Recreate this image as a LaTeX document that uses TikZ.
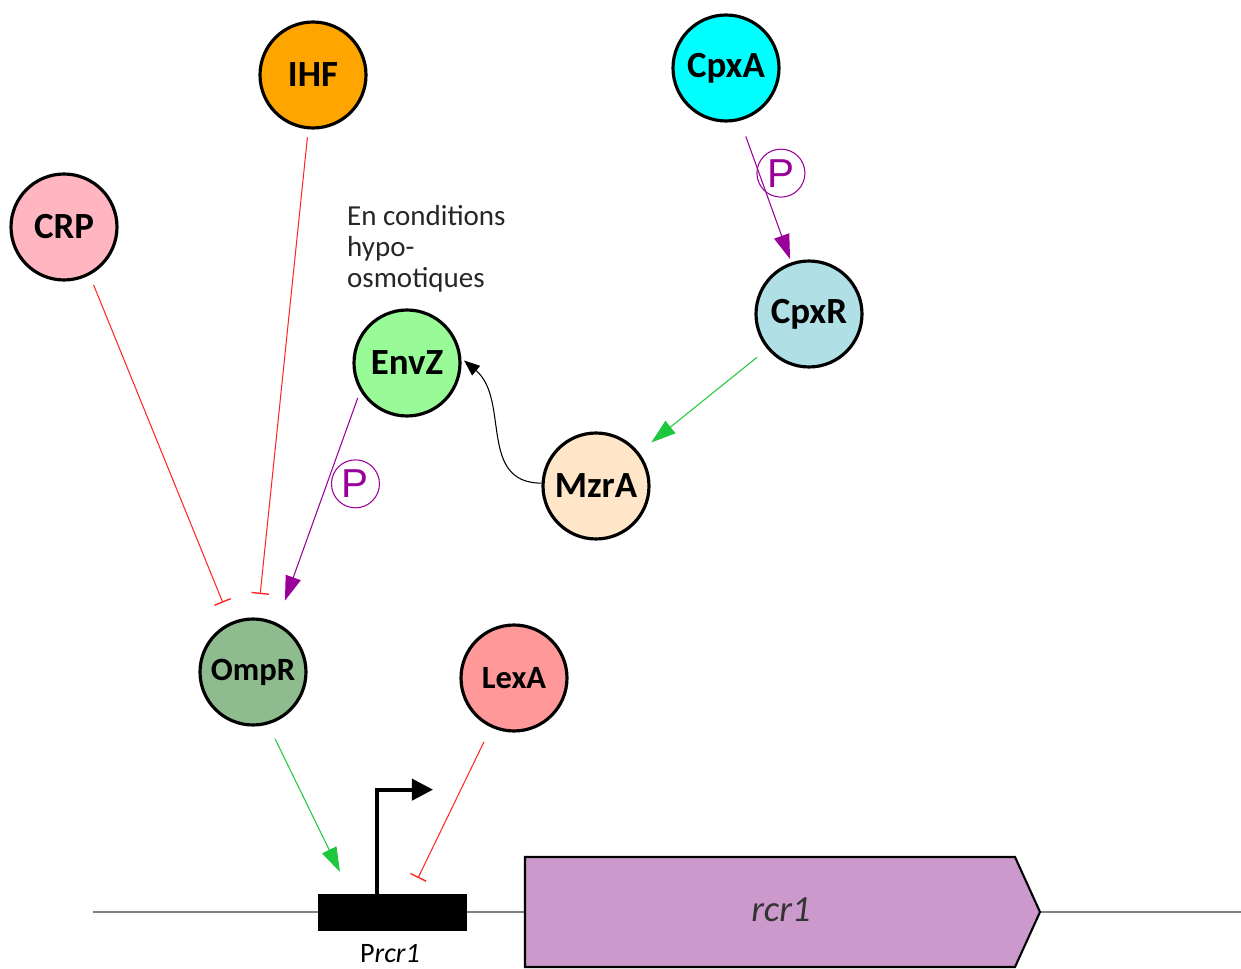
\documentclass[tikz,border=0pt]{standalone}
\usepackage{fontspec}
\setmainfont{Carlito}
\newfontfamily\pfont{Liberation Sans}
\usetikzlibrary{arrows.meta,positioning}
\definecolor{ihfc}{RGB}{255,165,0}
\definecolor{crpc}{RGB}{255,182,193}
\definecolor{cpxac}{RGB}{0,255,255}
\definecolor{cpxrc}{RGB}{176,224,230}
\definecolor{envzc}{RGB}{152,251,152}
\definecolor{mzrac}{RGB}{255,230,200}
\definecolor{omprc}{RGB}{143,188,143}
\definecolor{lexac}{RGB}{255,153,153}
\definecolor{genec}{RGB}{204,153,204}
\definecolor{inhred}{RGB}{255,40,40}
\definecolor{actgreen}{RGB}{30,200,60}
\definecolor{phospurple}{RGB}{153,0,153}

\begin{document}
\begin{tikzpicture}[x=0.02cm,y=-0.02cm,
  prot/.style={circle,draw,line width=1.8pt,minimum size=2.12cm,inner sep=0pt,font=\bfseries\fontsize{21}{25}\selectfont},
  smallprot/.style={prot,font=\bfseries\fontsize{18.5}{22}\selectfont},
  act/.style={-{Triangle[length=14pt,width=9pt]},line width=0.6pt},
  inh/.style={-{Bar[width=10pt,line width=0.8pt]},line width=0.6pt,draw=inhred},
  phos/.style={circle,draw=phospurple,text=phospurple,line width=0.6pt,minimum size=0.96cm,inner sep=0pt,font=\pfont\fontsize{23}{23}\selectfont}]
\useasboundingbox (0,0) rectangle (1241,969);

% DNA, gene and promoter
\draw[gray,line width=1.1pt] (93,912) -- (1241,912);
\draw[fill=genec,line width=1.2pt] (525,857) -- (1015,857) -- (1040,912) -- (1015,967) -- (525,967) -- cycle;
\node[font=\itshape\fontsize{21}{25}\selectfont,text=black!80] (genelabel) at (781,910) {rcr1};
\node[fill=black,draw,minimum width=2.96cm,minimum height=0.72cm,inner sep=0pt] (prom) at (392,912) {};
\node[font=\fontsize{16}{19}\selectfont] (promlabel) at (390,954) {P\textit{rcr1}};
\draw[line width=2.3pt,-{Triangle[length=12pt,width=12pt]}] ([xshift=-0.3cm]prom.north) |- ++(56,-104);

% proteins
\node[prot,fill=ihfc] (ihf) at (313,75) {IHF};
\node[prot,fill=crpc] (crp) at (64,227) {CRP};
\node[prot,fill=cpxac] (cpxa) at (726,68) {CpxA};
\node[prot,fill=cpxrc] (cpxr) at (809,314) {CpxR};
\node[prot,fill=envzc] (envz) at (407,363) {EnvZ};
\node[prot,fill=mzrac] (mzra) at (596,486) {MzrA};
\node[smallprot,fill=omprc] (ompr) at (253,672) {OmpR};
\node[smallprot,fill=lexac] (lexa) at (514,678) {LexA};

\node[align=left,anchor=west,font=\fontsize{16.5}{17.6}\selectfont,text=black!85] (hypo) at (341,249) {En conditions\\hypo-\\osmotiques};

% binding sites on the promoter
\coordinate (ompr-site) at (340,872);
\coordinate (lexa-site) at (418,878);

% regulations
\draw[inh,shorten <=6pt,shorten >=12pt] (crp.-62) -- (ompr.114);
\draw[inh,shorten <=4.5pt,shorten >=13.5pt] (ihf.-95) -- (ompr.85);
\draw[act,phospurple,shorten <=4pt,shorten >=13.5pt] (envz.211) -- node[phos,pos=0.4,right=2.3pt] (p1) {P} (ompr.64);
\draw[act,phospurple,shorten <=9.5pt,shorten >=2pt] (cpxa.-75) -- node[phos,pos=0.37,right=-1.5pt] (p2) {P} (cpxr.109);
\draw[act,actgreen,shorten <=7.5pt,shorten >=9pt] (cpxr.-140) -- (mzra.38);
\draw[line width=0.6pt,-{Triangle[length=9pt,width=7pt]},shorten >=2pt] (mzra.177) to[out=180,in=-40,looseness=1.1] (envz.5);
\draw[act,actgreen,shorten <=9pt] (ompr.-74) -- (ompr-site);
\draw[inh,shorten <=9pt] (lexa.-115) -- (lexa-site);
\end{tikzpicture}
\end{document}
